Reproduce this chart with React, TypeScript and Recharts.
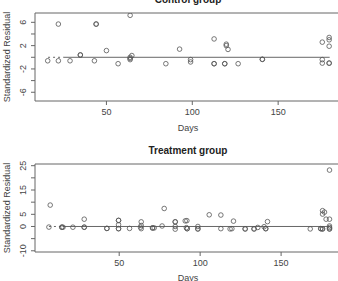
import { ScatterChart, Scatter, XAxis, YAxis, ReferenceLine, ReferenceArea } from "recharts";

// Control group: days and standardized residuals
const controlDays = [
  15.8, 22, 22, 28.8, 34.8, 34.8, 43, 44, 44, 50, 56.8, 63.8, 63.8, 63.8, 63.8, 64.8,
  84.6, 92.6, 99, 99, 112.7, 112.7, 112.7, 118.9, 118.9, 119.8, 119.8, 120.8, 126.7,
  140.8, 140.8, 175.7, 175.7, 175.7, 179.7, 179.7, 179.7, 179.7, 179.7,
];
const controlResid = [
  -0.6, 5.7, -0.6, -0.6, 0.4, 0.4, -0.6, 5.7, 5.7, 1.15, -1.1, 7.2, 0, -0.2, -0.4, 0.3,
  -1.1, 1.4, -0.4, -0.8, 3.15, -1.1, -1.1, -1.1, -1.1, 2.25, 2.0, 1.35, -1.1,
  -0.35, -0.35, 2.6, -0.4, -1.0, 3.4, 3.0, 1.9, -1.0, -1.0,
];

// Treatment group
const treatDays = [
  6.6, 7.4, 14.6, 14.6, 15.3, 21.4, 28.4, 28.4, 28.4, 42.4, 42.4, 49.6, 49.6, 49.6, 49.6, 49.6,
  56.4, 63.2, 63.6, 63.6, 63.6, 70.6, 70.6, 71.6, 76.5, 77.8, 84.6, 84.6, 84.6, 84.6,
  90.8, 91.8, 91.5, 92, 92, 98.6, 98.6, 98.6, 105.6, 112.8, 112.8, 118.5, 119.6, 120.6,
  127.8, 127.8, 133.3, 133.3, 135.6, 139.5, 140.5, 140.5, 141.6, 168, 174.5, 174.5,
  175.6, 175.6, 176.8, 175.6, 175.6, 177.8, 179.9, 179.9, 179.9, 179.9, 179.9, 179.9,
];
const treatResid = [
  -0.25, 8.8, -0.3, -0.3, -0.3, -0.3, 3.0, -0.3, -0.3, -0.8, -0.8, 2.5, 2.5, 0.7, -0.9, -0.9,
  -0.8, -0.3, 1.9, 0.4, -0.9, -0.6, -0.6, -0.6, 0.2, 7.4, 1.9, 1.9, 0, -1.1,
  2.3, 2.4, -0.5, -0.9, -0.9, 0, -1.0, -1.0, 4.8, 4.7, -0.9, -1.0, -0.9, 2.2,
  -1.0, -1.0, -1.0, -1.0, -0.4, -0.1, -0.9, -0.9, 2.0, -1.0, -0.9, -0.9,
  6.5, 5.1, 5.9, -1.0, -1.0, 3.0, 23.2, 3.0, 0.2, -0.4, -1.0, -1.0,
];

const xTicks = [50, 100, 150];
const controlYTicks = [-6, -4, -2, 0, 2, 4, 6];
const controlYLabels = [-6, -2, 2, 6];
const treatYTicks = [-10, -5, 0, 5, 10, 15, 20, 25];
const treatYLabels = [-10, 0, 5, 15, 25];

const INK = "#666";
const FONT = "'Liberation Sans', Arial, sans-serif";

function Ring(props: any) {
  const { cx, cy } = props;
  return <circle cx={cx} cy={cy} r={2.3} fill="none" stroke="#555" strokeWidth={0.8} />;
}

function XTick({ x, y, payload }: any) {
  return (
    <text x={x} y={y + 8} textAnchor="middle" fontSize={9} fill="#444" fontFamily={FONT}>
      {payload.value}
    </text>
  );
}

function makeYTick(shown: number[]) {
  return ({ x, y, payload }: any) => {
    if (!shown.includes(payload.value)) return <g />;
    const lx = x - 6;
    return (
      <text
        x={lx}
        y={y}
        transform={`rotate(-90, ${lx}, ${y})`}
        textAnchor="middle"
        dy={3}
        fontSize={9}
        fill="#444"
        fontFamily={FONT}
      >
        {payload.value}
      </text>
    );
  };
}

function Panel({ days, resid, xDomain, yDomain, yTicks, yLabels, height, top, line }: any) {
  const data = days.map((d: number, i: number) => ({ d, r: resid[i] }));
  return (
    <ScatterChart width={350} height={height} margin={{ top, right: 9, bottom: 0, left: 0 }}>
      <ReferenceArea
        x1={xDomain[0]}
        x2={xDomain[1]}
        y1={yDomain[0]}
        y2={yDomain[1]}
        fill="none"
        stroke={INK}
        strokeWidth={1}
        ifOverflow="visible"
      />
      <XAxis
        type="number"
        dataKey="d"
        domain={xDomain}
        ticks={xTicks}
        allowDataOverflow
        axisLine={false}
        tickLine={{ stroke: INK }}
        tickSize={4}
        height={height - top - (height === 135 ? 88 : 88)}
        tick={<XTick />}
      />
      <YAxis
        type="number"
        dataKey="r"
        domain={yDomain}
        ticks={yTicks}
        allowDataOverflow
        interval={0}
        axisLine={false}
        tickLine={{ stroke: INK }}
        tickSize={4}
        width={35}
        tick={makeYTick(yLabels)}
      />
      <ReferenceLine
        segment={[{ x: line[0], y: 0 }, { x: line[1], y: 0 }]}
        stroke={INK}
        strokeDasharray="2 3"
      />
      <ReferenceLine
        segment={[{ x: line[1], y: 0 }, { x: line[2], y: 0 }]}
        stroke={INK}
      />
      <Scatter data={data} shape={<Ring />} isAnimationActive={false} />
    </ScatterChart>
  );
}

const titleStyle: any = {
  position: "absolute",
  left: 35,
  width: 306,
  textAlign: "center",
  fontWeight: "bold",
  fontSize: 10,
  color: "#222",
  fontFamily: FONT,
  lineHeight: "12px",
};
const daysStyle: any = {
  position: "absolute",
  left: 35,
  width: 306,
  textAlign: "center",
  fontSize: 9,
  color: "#444",
  fontFamily: FONT,
  lineHeight: "10px",
};
const ylabStyle = (cy: number): any => ({
  position: "absolute",
  left: 7 - 60,
  top: cy - 6,
  width: 120,
  textAlign: "center",
  fontSize: 9,
  color: "#444",
  fontFamily: FONT,
  lineHeight: "12px",
  transform: "rotate(-90deg)",
});

export default function App() {
  return (
    <div
      style={{
        position: "absolute",
        left: 0,
        top: 0,
        width: 338,
        height: 281,
        overflow: "hidden",
        background: "#fff",
      }}
    >
      <div style={{ ...titleStyle, top: -6 }}>Control group</div>
      <div style={{ position: "absolute", left: 0, top: 0 }}>
        <Panel
          days={controlDays}
          resid={controlResid}
          xDomain={[8.4, 186.6]}
          yDomain={[-7.5, 7.6]}
          yTicks={controlYTicks}
          yLabels={controlYLabels}
          height={135}
          top={13}
          line={[16, 25, 180]}
        />
      </div>
      <div style={{ ...daysStyle, top: 123 }}>Days</div>
      <div style={ylabStyle(57)}>Standardized Residual</div>

      <div style={{ ...titleStyle, top: 145 }}>Treatment group</div>
      <div style={{ position: "absolute", left: 0, top: 140 }}>
        <Panel
          days={treatDays}
          resid={treatResid}
          xDomain={[-2, 187]}
          yDomain={[-10.5, 25.7]}
          yTicks={treatYTicks}
          yLabels={treatYLabels}
          height={141}
          top={24}
          line={[6.6, 15, 180]}
        />
      </div>
      <div style={{ ...daysStyle, top: 273 }}>Days</div>
      <div style={ylabStyle(208)}>Standardized Residual</div>
    </div>
  );
}
